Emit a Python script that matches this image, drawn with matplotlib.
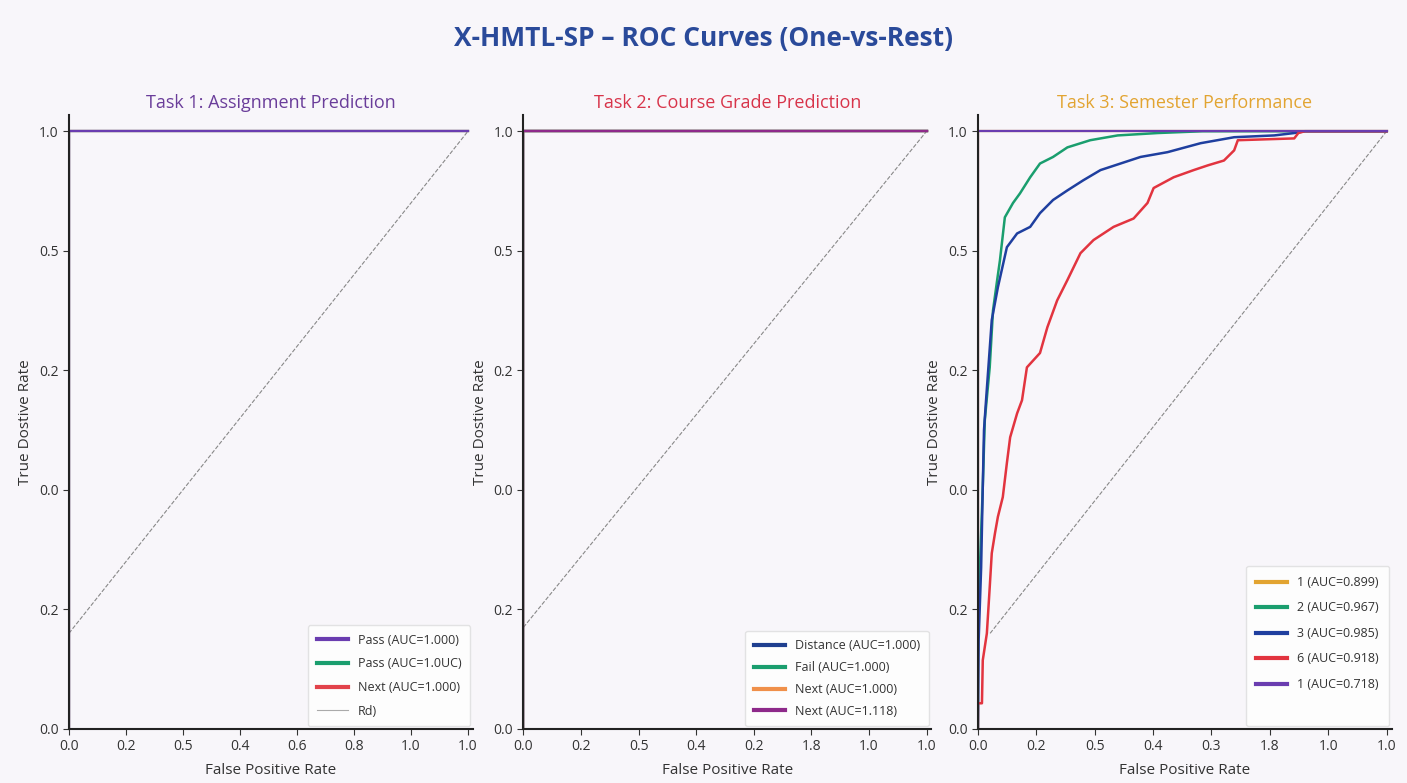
import matplotlib.pyplot as plt
from matplotlib.lines import Line2D
import numpy as np

plt.rcParams['font.family'] = ['Open Sans', 'DejaVu Sans']

# --- data ---
xtick_pos = np.linspace(0, 1, 8)
xtick_labels = [
    ['0.0', '0.2', '0.5', '0.4', '0.6', '0.8', '1.0', '1.0'],
    ['0.0', '0.2', '0.5', '0.4', '0.2', '1.8', '1.0', '1.0'],
    ['0.0', '0.2', '0.5', '0.4', '0.3', '1.8', '1.0', '1.0'],
]
ytick_pos = np.linspace(0, 1, 6)
ytick_labels = ['0.0', '0.2', '0.0', '0.2', '0.5', '1.0']

task_titles = ['Task 1: Assignment Prediction', 'Task 2: Course Grade Prediction',
               'Task 3: Semester Performance']
title_colors = ['#6a3d9a', '#d8344a', '#e2a431']

# perfect ROC (AUC = 1)
perfect_fpr = [0.0, 0.0, 1.0]
perfect_tpr = [0.0, 1.0, 1.0]

# task 1 & 2 legends
t1_labels = ['Pass (AUC=1.000)', 'Pass (AUC=1.0UC)', 'Next (AUC=1.000)']
t1_colors = ['#6a3db0', '#1a9e6e', '#e2434b']
t2_labels = ['Distance (AUC=1.000)', 'Fail (AUC=1.000)', 'Next (AUC=1.000)', 'Next (AUC=1.118)']
t2_colors = ['#1f3f8f', '#1a9e6e', '#f0904a', '#8e2a8a']

# task 3 curves
green_fpr = [0.0, 0.0, 0.005, 0.012, 0.017, 0.029, 0.037, 0.047, 0.054, 0.066, 0.086,
             0.103, 0.128, 0.152, 0.184, 0.219, 0.275, 0.342, 0.44, 0.55, 1.0]
green_tpr = [0.0, 0.16, 0.27, 0.405, 0.517, 0.605, 0.70, 0.75, 0.784, 0.856, 0.88,
             0.896, 0.923, 0.946, 0.957, 0.973, 0.985, 0.993, 0.997, 1.0, 1.0]
blue_fpr = [0.0, 0.002, 0.008, 0.012, 0.015, 0.02, 0.034, 0.049, 0.071, 0.096, 0.128,
            0.152, 0.184, 0.219, 0.258, 0.30, 0.349, 0.398, 0.464, 0.545, 0.627,
            0.725, 0.774, 0.80, 1.0]
blue_tpr = [0.0, 0.15, 0.27, 0.405, 0.50, 0.55, 0.684, 0.739, 0.806, 0.829, 0.84,
            0.863, 0.885, 0.901, 0.918, 0.935, 0.946, 0.957, 0.965, 0.98, 0.99,
            0.993, 0.997, 1.0, 1.0]
red_fpr = [0.0, 0.0, 0.01, 0.012, 0.022, 0.029, 0.034, 0.042, 0.049, 0.061, 0.071,
           0.079, 0.096, 0.108, 0.12, 0.152, 0.17, 0.194, 0.219, 0.251, 0.283,
           0.332, 0.381, 0.415, 0.43, 0.479, 0.528, 0.563, 0.602, 0.627, 0.636,
           0.774, 0.784, 0.80, 1.0]
red_tpr = [0.0, 0.043, 0.043, 0.115, 0.16, 0.237, 0.294, 0.328, 0.355, 0.388, 0.445,
           0.488, 0.528, 0.55, 0.605, 0.629, 0.672, 0.717, 0.751, 0.796, 0.818,
           0.84, 0.854, 0.88, 0.905, 0.923, 0.935, 0.943, 0.951, 0.968, 0.985,
           0.988, 0.997, 1.0, 1.0]
t3_labels = ['1 (AUC=0.899)', '2 (AUC=0.967)', '3 (AUC=0.985)', '6 (AUC=0.918)', '1 (AUC=0.718)']
t3_colors = ['#e2a431', '#1a9e6e', '#1f3f9f', '#e2343f', '#6a3db0']

# chance diagonals (as drawn in the reference)
diag_start = [(0.0, 0.16), (0.0, 0.17), (0.03, 0.16)]

bg = '#f8f6fa'
fig = plt.figure(figsize=(14.07, 7.83), dpi=100)
fig.patch.set_facecolor(bg)

lefts = [0.049, 0.372, 0.695]
widths = [0.287, 0.29, 0.294]
axes = [fig.add_axes([l, 0.069, w, 0.784]) for l, w in zip(lefts, widths)]

for i, ax in enumerate(axes):
    ax.set_facecolor(bg)
    x0, y0 = diag_start[i]
    ax.plot([x0, 1.0], [y0, 1.0], linestyle='--', color='#888888', lw=0.8, zorder=1)

leg_kw = dict(loc='lower right', fontsize=9, frameon=True, handlelength=2.5,
              borderaxespad=0.2)

# task 1
ax = axes[0]
for lab, col in zip(t1_labels[::-1], t1_colors[::-1]):
    ax.plot(perfect_fpr, perfect_tpr, color=col, lw=1.6, label=lab)
ax.plot([], [], color='#aaaaaa', lw=0.8, label='Rd)')
h, l = ax.get_legend_handles_labels()
order = [2, 1, 0, 3]
ax.legend([h[k] for k in order], [l[k] for k in order], labelspacing=0.85,
          borderpad=0.7, **leg_kw)

# task 2
ax = axes[1]
for lab, col in zip(t2_labels, t2_colors):
    ax.plot(perfect_fpr, perfect_tpr, color=col, lw=1.7, label=lab)
ax.legend(labelspacing=0.7, borderpad=0.7, **leg_kw)

# task 3
ax = axes[2]
ax.plot(perfect_fpr, perfect_tpr, color=t3_colors[0], lw=1.6, label=t3_labels[0])
ax.plot(green_fpr, green_tpr, color=t3_colors[1], lw=1.8, label=t3_labels[1])
ax.plot(blue_fpr, blue_tpr, color=t3_colors[2], lw=1.8, label=t3_labels[2])
ax.plot(red_fpr, red_tpr, color=t3_colors[3], lw=1.8, label=t3_labels[3])
ax.plot(perfect_fpr, perfect_tpr, color=t3_colors[4], lw=1.6, label=t3_labels[4])
h, l = ax.get_legend_handles_labels()
h.append(Line2D([], [], color='none'))
l.append(' ')
ax.legend(h, l, labelspacing=1.0, borderpad=0.8, **leg_kw)

for i, ax in enumerate(axes):
    ax.set_xlim(0, 1.012)
    ax.set_ylim(0, 1.027)
    ax.set_xticks(xtick_pos)
    ax.set_xticklabels(xtick_labels[i])
    ax.set_yticks(ytick_pos)
    ax.set_yticklabels(ytick_labels)
    ax.tick_params(labelsize=10, colors='#333333', length=4)
    ax.spines['top'].set_visible(False)
    ax.spines['right'].set_visible(False)
    for s in ('left', 'bottom'):
        ax.spines[s].set_color('#222222')
        ax.spines[s].set_linewidth(1.5)
        ax.spines[s].set_zorder(5)
    ax.set_xlabel('False Positive Rate', fontsize=11, color='#333333', labelpad=6)
    ax.set_ylabel('True Dostive Rate', fontsize=11, color='#333333')
    ax.set_title(task_titles[i], fontsize=13, color=title_colors[i], pad=5)
    leg = ax.get_legend()
    leg.get_frame().set_facecolor('white')
    leg.get_frame().set_edgecolor('#dddddd')
    for t in leg.get_texts():
        t.set_color('#333333')
    for ln in leg.get_lines():
        ln.set_linewidth(3)
    if i == 0:
        leg.get_lines()[-1].set_linewidth(0.8)

fig.suptitle('X-HMTL-SP \u2013 ROC Curves (One-vs-Rest)', fontsize=19, fontweight='bold',
             color='#2a4a9a', y=0.968)

fig.savefig('out.png', dpi=100, facecolor=bg)
